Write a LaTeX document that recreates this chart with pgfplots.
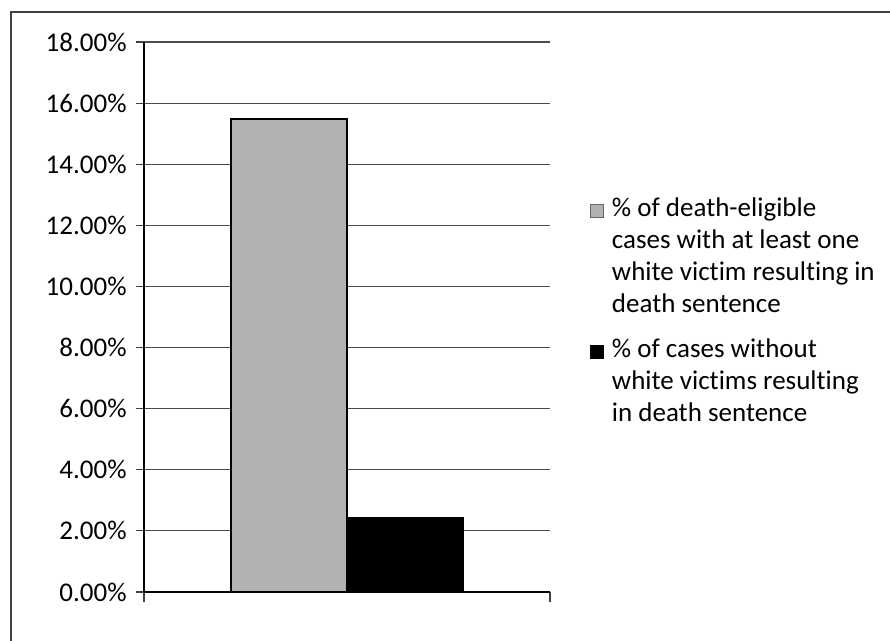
\documentclass[border=0pt]{standalone}
\usepackage{pgfplots}
\pgfplotsset{compat=1.18}
\usepackage{fontspec}
\setmainfont{Carlito}[Ligatures={NoCommon}]
\definecolor{barfill}{gray}{0.70}
\begin{document}
\fontsize{13.5pt}{16.2pt}\selectfont
\begin{tikzpicture}[x=0.5pt,y=0.5pt]
\path[use as bounding box] (0,0) rectangle (890,641);
\draw[black!75, line width=1pt] (11,-10) -- (11,629) -- (900,629);
\begin{axis}[
  at={(72pt,24.5pt)}, anchor=south west,
  scale only axis, width=203pt, height=275pt,
  xmin=-1, xmax=1, ymin=0, ymax=18,
  ybar=0pt, bar width=58pt,
  axis x line*=bottom, axis y line*=left,
  axis line style={black, line width=0.9pt},
  ytick={0,2,...,18},
  xtick={-1,1}, xticklabels={},
  tick align=outside,
  major tick length=4pt,
  xtick style={/pgfplots/major tick length=5pt, black!75, line width=0.6pt},
  ytick style={black!75, line width=0.6pt},
  ymajorgrids, grid style={black!70, line width=0.6pt},
  /pgf/number format/assume math mode=true,
  yticklabel={\pgfmathprintnumber[fixed,fixed zerofill,precision=2]{\tick}\%},
  yticklabel style={font=\fontsize{13.5pt}{16pt}\selectfont},
  legend style={at={(1.096,0.727)}, anchor=north west, draw=none, inner sep=0pt,
    font=\fontsize{13.5pt}{16pt}\selectfont, row sep=6.5pt,
    cells={anchor=north west, align=left}},
  legend image code/.code={\path (0pt,0pt) (8.5pt,0pt); \draw[#1] (0pt,-12.25pt) rectangle (6.5pt,-5.75pt);},
]
\addplot[fill=barfill, draw=black, line width=0.8pt, bar shift=-29pt,
  legend image code/.code={\path (0pt,0pt) (8.5pt,0pt); \draw[fill=barfill, draw=black!60, line width=0.4pt] (0pt,-12.25pt) rectangle (6.5pt,-5.75pt);}]
  coordinates {(0,15.47)};
\addplot[fill=black, draw=black, bar shift=29pt] coordinates {(0,2.45)};
\legend{\% of death-eligible\\cases with at least one\\white victim resulting in\\death sentence,
        \% of cases without\\white victims resulting\\in death sentence}
\end{axis}
\end{tikzpicture}
\end{document}
